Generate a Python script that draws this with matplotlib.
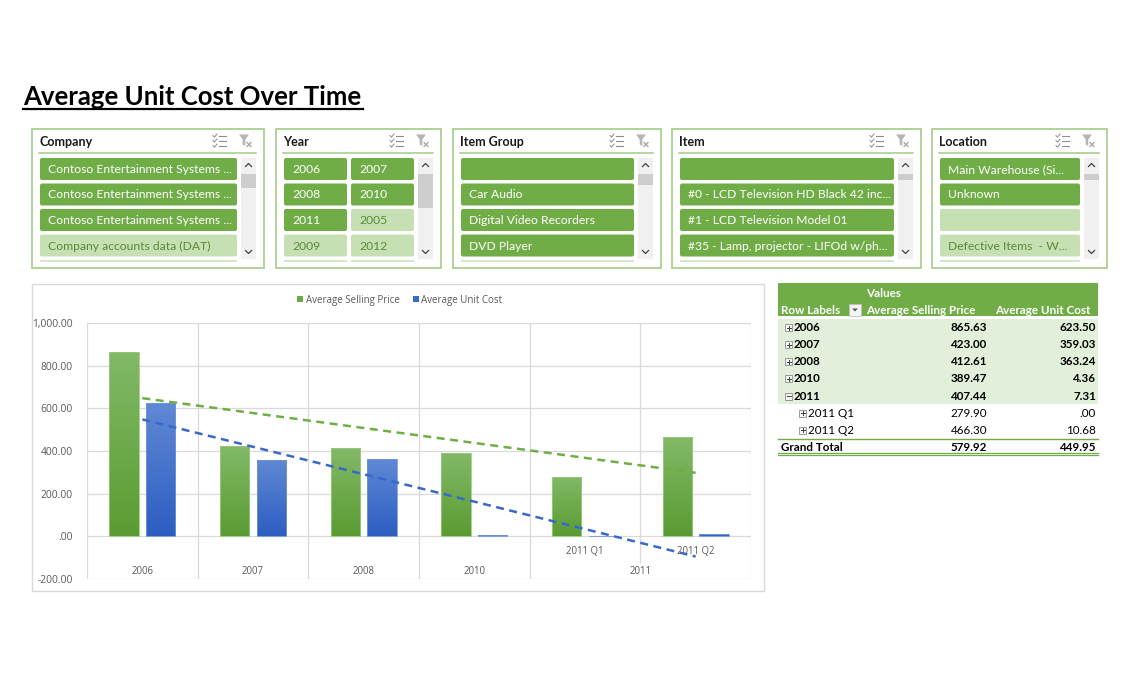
import numpy as np
import matplotlib
matplotlib.use('Agg')
import matplotlib.pyplot as plt
from matplotlib.patches import Rectangle, FancyBboxPatch, Polygon, Patch
from matplotlib.colors import LinearSegmentedColormap
from matplotlib.ticker import FuncFormatter, MultipleLocator

W, H = 1140, 687

TITLE = 'Average Unit Cost Over Time'

# chart data
CATEGORIES = ['2006', '2007', '2008', '2010', '2011 Q1', '2011 Q2']
YEAR_GROUPS = ['2006', '2007', '2008', '2010', '2011']
SELLING = [865.63, 423.00, 412.61, 389.47, 279.90, 466.30]
UNIT_COST = [623.50, 359.03, 363.24, 4.36, 0.00, 10.68]
SERIES = ['Average Selling Price', 'Average Unit Cost']

# pivot table
TABLE_HEAD = ['Row Labels', 'Average Selling Price', 'Average Unit Cost']
ROW_LABELS = ['2006', '2007', '2008', '2010', '2011', '2011 Q1', '2011 Q2', 'Grand Total']
ROW_SELLING = ['865.63', '423.00', '412.61', '389.47', '407.44', '279.90', '466.30', '579.92']
ROW_COST = ['623.50', '359.03', '363.24', '4.36', '7.31', '.00', '10.68', '449.95']

# slicers
COMPANY_ITEMS = ['Contoso Entertainment Systems ...', 'Contoso Entertainment Systems ...',
                 'Contoso Entertainment Systems ...', 'Company accounts data (DAT)']
COMPANY_ON = [1, 1, 1, 0]
YEAR_ITEMS = ['2006', '2007', '2008', '2010', '2011', '2005', '2009', '2012']
YEAR_ON = [1, 1, 1, 1, 1, 0, 0, 0]
GROUP_ITEMS = ['', 'Car Audio', 'Digital Video Recorders', 'DVD Player']
GROUP_ON = [1, 1, 1, 1]
ITEM_ITEMS = ['', '#0 - LCD Television HD Black 42 inc...', '#1 - LCD Television Model 01',
              '#35 - Lamp, projector - LIFOd w/ph...']
ITEM_ON = [1, 1, 1, 1]
LOCATION_ITEMS = ['Main Warehouse (Si...', 'Unknown', '', 'Defective Items  - W...']
LOCATION_ON = [1, 1, 0, 0]

GREEN = '#70ad47'
LIGHT_GREEN = '#c6e0b4'
BORDER_GREEN = '#a9d08e'
BLUE = '#4472c4'
FONT = 'Lato'
CHART_FONT = 'Open Sans'


def rbox(bg, x, y, w, h, fc, r=2.0, ec='none', lw=0.8):
    bg.add_patch(FancyBboxPatch((x, y), w, h, boxstyle=f'round,pad=0,rounding_size={r}',
                                fc=fc, ec=ec, lw=lw))


def draw_slicer(bg, x0, x1, title, items, on, ncols, thumb):
    top, bot = 129, 268
    bg.add_patch(Rectangle((x0, top), x1 - x0, bot - top, fc='white', ec=BORDER_GREEN, lw=1.3))
    bg.text(x0 + 7, 141.5, title, family=FONT, fontsize=9, weight='bold',
            va='center', ha='left', color='#1a1a1a')
    sx1 = x1 - 8
    sx0 = sx1 - 15
    bg.plot([x0 + 7, sx1], [153, 153], color=BORDER_GREEN, lw=1.2)

    # multi-select icon
    ix = x1 - 45
    for dy in (-5, 0, 5):
        bg.plot([ix, ix + 7], [141 + dy, 141 + dy], color='#8c8c8c', lw=0.8)
        bg.plot([ix - 6, ix - 4.5, ix - 2], [141 + dy - 0.5, 141 + dy + 1.2, 141 + dy - 2],
                color='#8c8c8c', lw=0.7)
    # clear filter icon
    fx = x1 - 19
    bg.add_patch(Polygon([(fx - 6, 134.5), (fx + 4, 134.5), (fx + 0.3, 139.5), (fx + 0.3, 146),
                          (fx - 2.3, 144.5), (fx - 2.3, 139.5)], closed=True, fc='#b4b4b4', ec='none'))
    bg.plot([fx + 2, fx + 6], [142.5, 146.5], color='#a0a0a0', lw=0.9)
    bg.plot([fx + 2, fx + 6], [146.5, 142.5], color='#a0a0a0', lw=0.9)

    # scrollbar
    bg.add_patch(Rectangle((sx0, 158), 15, 101, fc='#f0f0f0', ec='none'))
    bg.add_patch(Rectangle((sx0, thumb[0]), 15, thumb[1] - thumb[0], fc='#cdcdcd', ec='none'))
    cx = sx0 + 7.5
    bg.plot([cx - 3, cx, cx + 3], [166.5, 163.5, 166.5], color='#404040', lw=0.9)
    bg.plot([cx - 3, cx, cx + 3], [250.5, 253.5, 250.5], color='#404040', lw=0.9)

    # buttons
    bx0, bx1 = x0 + 8, sx0 - 4
    gap = 4
    bw = (bx1 - bx0 - gap * (ncols - 1)) / ncols
    for k, (label, sel) in enumerate(zip(items, on)):
        row, col = divmod(k, ncols)
        bx = bx0 + col * (bw + gap)
        by = 158 + row * 25.5
        rbox(bg, bx, by, bw, 22, GREEN if sel else LIGHT_GREEN)
        bg.text(bx + 8, by + 11.5, label, family=FONT, fontsize=8.7, va='center', ha='left',
                color='white' if sel else '#5b8a3b')
    for col in range(ncols):
        bx = bx0 + col * (bw + gap)
        bg.add_patch(Rectangle((bx, 260), bw, 1.6, fc='#d5e6ca', ec='none'))


fig = plt.figure(figsize=(W / 100, H / 100), dpi=100)
bg = fig.add_axes([0, 0, 1, 1])
bg.set_xlim(0, W)
bg.set_ylim(H, 0)
bg.axis('off')

# title
bg.text(23, 105, TITLE, family=FONT, fontsize=18.5, weight='bold', ha='left', va='baseline',
        color='black')
bg.plot([23, 363], [108.5, 108.5], color='black', lw=1.6)

# slicers
draw_slicer(bg, 32, 264, 'Company', COMPANY_ITEMS, COMPANY_ON, 1, (174, 188))
draw_slicer(bg, 276, 441, 'Year', YEAR_ITEMS, YEAR_ON, 2, (174, 208))
draw_slicer(bg, 453, 661, 'Item Group', GROUP_ITEMS, GROUP_ON, 1, (174, 185))
draw_slicer(bg, 672, 921, 'Item', ITEM_ITEMS, ITEM_ON, 1, (174, 180))
draw_slicer(bg, 932, 1107, 'Location', LOCATION_ITEMS, LOCATION_ON, 1, (174, 180))

# chart frame
bg.add_patch(Rectangle((32, 284), 732, 307, fc='white', ec='#d9d9d9', lw=1))

# pivot table
bg.add_patch(Rectangle((778, 283), 320, 33, fc=GREEN, ec='none'))
bg.text(866, 293.5, 'Values', family=FONT, fontsize=8.4, weight='bold', color='white',
        ha='left', va='center')
bg.text(781, 310.5, TABLE_HEAD[0], family=FONT, fontsize=8.4, weight='bold', color='white',
        ha='left', va='center')
bg.add_patch(Rectangle((848.5, 303.5), 12.5, 12.5, fc='#f4f4f4', ec='#bfbfbf', lw=0.6))
bg.add_patch(Polygon([(852, 308.5), (858, 308.5), (855, 311.5)], closed=True, fc='#595959', ec='none'))
bg.text(866, 310.5, TABLE_HEAD[1], family=FONT, fontsize=8.4, weight='bold', color='white',
        ha='left', va='center')
bg.text(1090, 310.5, TABLE_HEAD[2], family=FONT, fontsize=8.4, weight='bold', color='white',
        ha='right', va='center')

levels = [0, 0, 0, 0, 0, 1, 1, 2]
row_h = 17.15
bg.add_patch(Rectangle((778, 318.5), 320, 5 * row_h, fc='#e2efda', ec='none'))
for i, (lab, sp, uc) in enumerate(zip(ROW_LABELS, ROW_SELLING, ROW_COST)):
    y = 327.5 + i * row_h
    lvl = levels[i]
    weight = 'normal' if lvl == 1 else 'bold'
    if lvl == 2:
        bg.text(781, y, lab, family=FONT, fontsize=8.4, weight='bold', ha='left', va='center')
    else:
        ex = 785 if lvl == 0 else 799
        bg.add_patch(Rectangle((ex, y - 3.5), 7, 7, fc='#f4f4f4', ec='#8c8c8c', lw=0.6))
        bg.plot([ex + 1.5, ex + 5.5], [y, y], color='#404040', lw=0.7)
        if lab != '2011':
            bg.plot([ex + 3.5, ex + 3.5], [y - 2, y + 2], color='#404040', lw=0.7)
        bg.text(ex + 9, y, lab, family=FONT, fontsize=8.4, weight=weight, ha='left', va='center')
    bg.text(987, y, sp, family=FONT, fontsize=8.4, weight=weight, ha='right', va='center')
    bg.text(1096, y, uc, family=FONT, fontsize=8.4, weight=weight, ha='right', va='center')
bg.plot([778, 1098], [438.5, 438.5], color=GREEN, lw=1)
bg.plot([778, 1098], [453.2, 453.2], color=GREEN, lw=0.9)
bg.plot([778, 1098], [455.4, 455.4], color=GREEN, lw=0.9)

# chart
ax = fig.add_axes([87 / W, 1 - 579 / H, 664 / W, 256 / H])
ax.set_facecolor('none')
x = np.arange(len(CATEGORIES))
off, bw = 0.167, 0.265
green_cmap = LinearSegmentedColormap.from_list('g', ['#5a9c32', '#82b967'])
blue_cmap = LinearSegmentedColormap.from_list('b', ['#2d5dc1', '#6089d5'])
grad = np.linspace(0, 1, 100).reshape(-1, 1)
for vals, dx, cmap, edge in ((SELLING, -off, green_cmap, '#9cca80'),
                             (UNIT_COST, off, blue_cmap, '#7396da')):
    bars = ax.bar(x + dx, vals, width=bw, color='none', edgecolor=edge, lw=0.6, zorder=3)
    for b, v in zip(bars, vals):
        if v <= 0:
            continue
        im = ax.imshow(grad, extent=[b.get_x(), b.get_x() + bw, 0, v], origin='lower',
                       cmap=cmap, aspect='auto', zorder=2)
        im.set_clip_path(b)

for vals, col in ((SELLING, '#6fad45'), (UNIT_COST, '#3a68c9')):
    coef = np.polyfit(x, vals, 1)
    ax.plot(x, np.polyval(coef, x), color=col, lw=1.8, ls=(0, (3.2, 2.2)), zorder=4)

ax.set_xlim(-0.5, len(CATEGORIES) - 0.5)
ax.set_ylim(-200, 1000)
ax.yaxis.set_major_locator(MultipleLocator(200))
ax.yaxis.set_major_formatter(FuncFormatter(lambda v, p: '.00' if abs(v) < 1e-9 else f'{v:,.2f}'))
ax.grid(axis='y', color='#d9d9d9', lw=0.9, zorder=0)
for xb in (-0.5, 0.5, 1.5, 2.5, 3.5, 5.5):
    ax.vlines(xb, -200, 1000, color='#d9d9d9', lw=0.9, zorder=0)
ax.vlines(4.5, -125, 1000, color='#d9d9d9', lw=0.9, zorder=0)
for s in ax.spines.values():
    s.set_visible(False)
ax.set_xticks([])
ax.tick_params(axis='y', length=0, pad=10, labelsize=7.4, labelcolor='#595959')
for lab in ax.get_yticklabels():
    lab.set_family(CHART_FONT)

for xi, lab in zip(x[4:], CATEGORIES[4:]):
    ax.text(xi, -70, lab, family=CHART_FONT, fontsize=6.9, color='#595959', ha='center', va='center')
group_pos = list(x[:4]) + [x[4:].mean()]
for xi, lab in zip(group_pos, YEAR_GROUPS):
    ax.text(xi, -167, lab, family=CHART_FONT, fontsize=6.9, color='#595959', ha='center', va='center')

handles = [Patch(fc='#6aab45'), Patch(fc='#3b6bc9')]
fig.legend(handles, SERIES, loc='center', bbox_to_anchor=(400 / W, 1 - 300 / H), ncol=2,
           frameon=False, prop={'family': CHART_FONT, 'size': 7}, labelcolor='#595959',
           handlelength=0.6, handleheight=0.6, handletextpad=0.3, columnspacing=1.3)

fig.savefig('out.png', dpi=100, facecolor='white')
